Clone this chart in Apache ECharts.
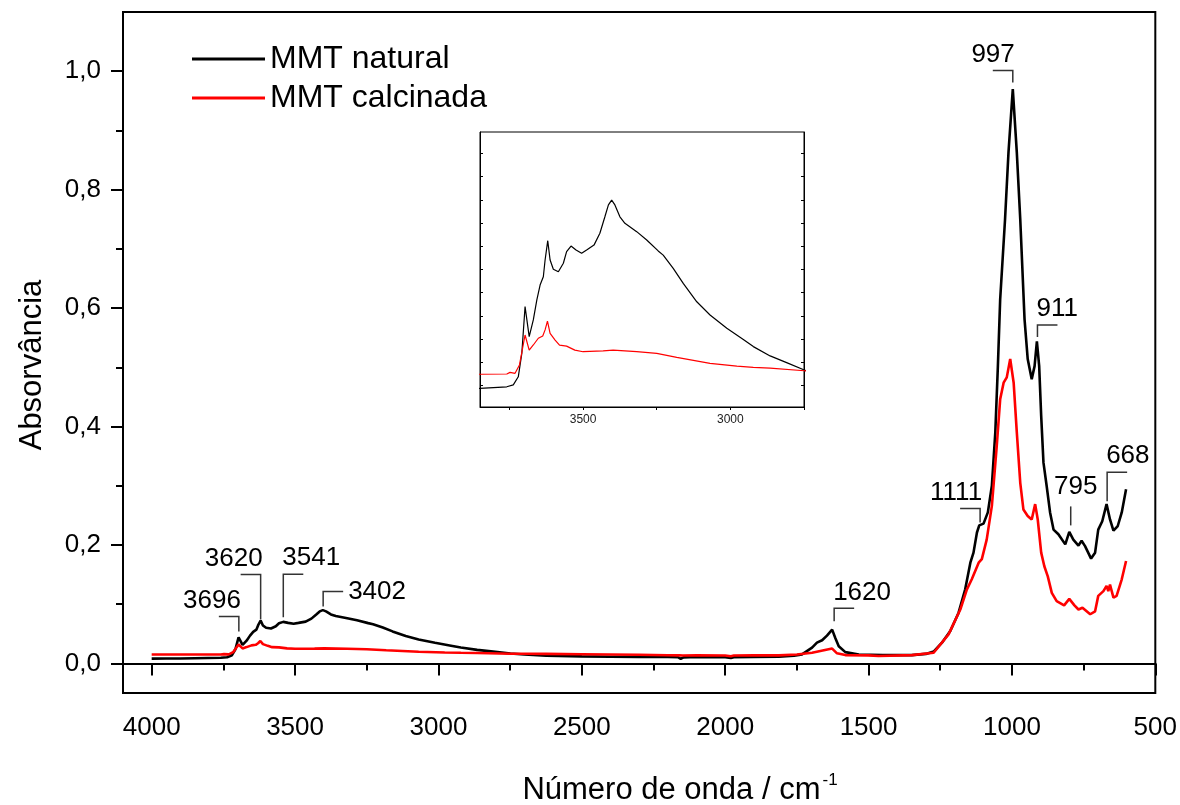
<!DOCTYPE html>
<html>
<head>
<meta charset="utf-8">
<script src="https://cdn.jsdelivr.net/npm/echarts@6/dist/echarts.min.js"></script>
<style>html,body{margin:0;padding:0;background:#fff}#c{width:1180px;height:805px}</style>
</head>
<body>
<div id="c"></div>
<script>
// ---------------- DATA ----------------
const seriesNames = ['MMT natural', 'MMT calcinada'];

const naturalWave = [4000,3950,3900,3850,3759,3737,3720,3708,3697,3683,3669,3657,3646,3635,3629,3620,3612,3601,3584,3567,3556,3541,3524,3505,3488,3463,3443,3426,3414,3403,3392,3375,3358,3318,3284,3245,3228,3194,3160,3114,3069,3012,2956,2922,2865,2809,2749,2700,2624,2500,2400,2300,2200,2165,2155,2145,2100,2000,1980,1970,1900,1813,1760,1732,1697,1680,1662,1645,1627,1616,1604,1581,1534,1450,1349,1300,1273,1244,1215,1186,1163,1145,1134,1122,1114,1099,1084,1070,1058,1049,1041,1024,1012,997,983,971,956,945,931,921,913,905,898,890,879,867,855,838,814,800,786,768,757,745,724,710,699,685,670,658,646,631,617,602];
const naturalAbs = [0.008,0.0082,0.0083,0.0088,0.0095,0.0103,0.0138,0.0239,0.0440,0.0311,0.0383,0.0469,0.0533,0.0569,0.0641,0.0724,0.0641,0.0601,0.0590,0.0627,0.0677,0.0701,0.0684,0.0670,0.0684,0.0705,0.0756,0.0827,0.0878,0.0899,0.0878,0.0827,0.0799,0.0763,0.0727,0.0680,0.0662,0.0605,0.0540,0.0461,0.0404,0.0347,0.0299,0.0268,0.0228,0.0199,0.0167,0.0150,0.0128,0.0118,0.0112,0.0110,0.0108,0.0105,0.0078,0.0102,0.0110,0.0105,0.0092,0.0104,0.0110,0.0112,0.0128,0.0152,0.0265,0.035,0.039,0.047,0.057,0.043,0.029,0.019,0.015,0.014,0.014,0.016,0.020,0.0349,0.0546,0.0856,0.125,0.170,0.187,0.221,0.233,0.236,0.255,0.300,0.390,0.502,0.615,0.750,0.863,0.970,0.863,0.750,0.581,0.514,0.480,0.502,0.544,0.502,0.418,0.339,0.300,0.255,0.226,0.218,0.201,0.222,0.209,0.199,0.207,0.198,0.177,0.187,0.226,0.240,0.269,0.243,0.224,0.232,0.255,0.294];

const calcWave = [4000,3850,3759,3748,3731,3716,3697,3683,3669,3652,3637,3629,3621,3612,3595,3580,3556,3528,3500,3432,3398,3318,3250,3182,3069,2978,2922,2865,2749,2700,2624,2500,2400,2300,2200,2160,2155,2148,2100,2000,1980,1970,1900,1813,1750,1697,1627,1610,1581,1500,1465,1349,1273,1221,1180,1157,1140,1116,1105,1088,1070,1053,1041,1029,1018,1006,994,983,971,960,945,931,919,910,898,887,875,861,844,818,800,782,768,754,727,710,699,681,670,664,658,646,635,617,602];
const calcAbs = [0.015,0.0149,0.0150,0.0157,0.0153,0.0189,0.0318,0.0253,0.0275,0.0304,0.0314,0.0340,0.0378,0.0325,0.0296,0.0274,0.0270,0.0253,0.0246,0.0250,0.0253,0.0246,0.0239,0.0222,0.0196,0.0184,0.0179,0.0175,0.0164,0.0162,0.0160,0.0155,0.0150,0.0145,0.0138,0.0136,0.0118,0.0134,0.0135,0.0133,0.0122,0.0132,0.0138,0.0135,0.0150,0.018,0.025,0.017,0.014,0.0135,0.0124,0.014,0.018,0.049,0.091,0.125,0.142,0.170,0.176,0.209,0.266,0.367,0.446,0.474,0.483,0.514,0.474,0.390,0.305,0.260,0.249,0.243,0.269,0.243,0.187,0.164,0.147,0.119,0.105,0.098,0.109,0.098,0.091,0.094,0.083,0.088,0.114,0.122,0.131,0.122,0.133,0.111,0.114,0.142,0.173];

// peak annotations
const peakLabels = ['3696','3620','3541','3402','1620','1111','997','911','795','668'];
const peakWave   = [3696, 3620, 3541, 3402, 1620, 1111, 997, 911, 795, 668];
const peakAbs    = [0.054,0.074,0.078,0.096,0.071,0.238,0.981,0.551,0.233,0.274];

// axis ticks / labels
const xMajorTicks = [500,1000,1500,2000,2500,3000,3500,4000];
const xMinorTicks = [750,1250,1750,2250,2750,3250,3750];
const yMajorTicks = [0,0.2,0.4,0.6,0.8,1.0];
const yMinorTicks = [0.1,0.3,0.5,0.7,0.9];
const insetXTicks = [3750,3500,3250,3000,2750];
const insetXLabels = [3500,3000];
const insetYTicks = [0.01,0.02,0.03,0.04,0.05,0.06,0.07,0.08,0.09,0.10,0.11];

// ---------------- LAYOUT / STYLE ----------------
const peakLayout = [
  {len:15, dir:-1}, {len:45, dir:-1}, {len:43, dir:1}, {len:15, dir:1, side:true},
  {len:13, dir:1}, {len:14, dir:-1}, {len:12, dir:-1}, {len:12, dir:1},
  {len:19, dir:0}, {len:29, dir:1}
];
const FONT = 'Liberation Sans';

const zip = (a, b) => a.map((v, i) => [v, b[i]]);
const natData = zip(naturalWave, naturalAbs);
const calData = zip(calcWave, calcAbs);
const peakData = peakWave.map((w, i) => [w, peakAbs[i], i]);

const chart = echarts.init(document.getElementById('c'), null, {renderer: 'canvas'});

const commaFmt = v => v.toFixed(1).replace('.', ',');
const plainFmt = v => String(Math.round(v));

const option = {
  animation: false,
  backgroundColor: '#fff',
  grid: [
    {left: 123, top: 12, width: 1034, height: 681, show: true, borderColor: '#000', borderWidth: 2, containLabel: false},
    {left: 480, top: 132, width: 324, height: 275, show: true, borderColor: '#000', borderWidth: 1, backgroundColor: '#fff', containLabel: false}
  ],
  legend: {
    data: seriesNames,
    orient: 'vertical',
    left: 187, top: 38,
    icon: 'rect',
    itemWidth: 73, itemHeight: 3,
    itemGap: 7,
    textStyle: {fontFamily: FONT, fontSize: 32, color: '#000'}
  },
  xAxis: [
    {gridIndex: 0, type: 'value', inverse: true, min: 500, max: 4100,
     axisLine: {show: true, lineStyle: {color: '#000', width: 2}},
     axisTick: {show: true, customValues: xMajorTicks, length: 12, lineStyle: {color: '#000', width: 2}},
     axisLabel: {show: true, customValues: xMajorTicks, formatter: plainFmt, fontFamily: FONT, fontSize: 26, color: '#000', margin: 22},
     splitLine: {show: false}},
    {gridIndex: 0, type: 'value', inverse: true, min: 500, max: 4100, position: 'bottom',
     axisLine: {show: false},
     axisTick: {show: true, customValues: xMinorTicks, length: 7, lineStyle: {color: '#000', width: 2}},
     axisLabel: {show: false}, splitLine: {show: false}},
    {gridIndex: 1, type: 'value', inverse: true, min: 2750, max: 3850, position: 'bottom',
     axisLine: {show: true, lineStyle: {color: '#000', width: 1}},
     axisTick: {show: true, customValues: insetXTicks, length: 3, lineStyle: {color: '#000', width: 1}},
     axisLabel: {show: true, customValues: insetXLabels, formatter: plainFmt, fontFamily: FONT, fontSize: 12, color: '#222', margin: 7},
     splitLine: {show: false}}
  ],
  yAxis: [
    {gridIndex: 0, type: 'value', min: -0.05, max: 1.1,
     axisLine: {show: true, lineStyle: {color: '#000', width: 2}},
     axisTick: {show: true, customValues: yMajorTicks, length: 12, lineStyle: {color: '#000', width: 2}},
     axisLabel: {show: true, customValues: yMajorTicks, formatter: commaFmt, fontFamily: FONT, fontSize: 26, color: '#000', margin: 22},
     splitLine: {show: false}},
    {gridIndex: 0, type: 'value', min: -0.05, max: 1.1, position: 'left',
     axisLine: {show: false},
     axisTick: {show: true, customValues: yMinorTicks, length: 7, lineStyle: {color: '#000', width: 2}},
     axisLabel: {show: false}, splitLine: {show: false}},
    {gridIndex: 1, type: 'value', min: 0.0008, max: 0.1192, position: 'left',
     axisLine: {show: true, lineStyle: {color: '#000', width: 1}},
     axisTick: {show: true, inside: true, customValues: insetYTicks, length: 3, lineStyle: {color: '#000', width: 1}},
     axisLabel: {show: false}, splitLine: {show: false}},
    {gridIndex: 1, type: 'value', min: 0.0008, max: 0.1192, position: 'right',
     axisLine: {show: true, lineStyle: {color: '#000', width: 1}},
     axisTick: {show: true, inside: true, customValues: insetYTicks, length: 3, lineStyle: {color: '#000', width: 1}},
     axisLabel: {show: false}, splitLine: {show: false}}
  ],
  series: [
    {name: seriesNames[0], type: 'line', xAxisIndex: 0, yAxisIndex: 0, data: natData,
     showSymbol: false, symbol: 'none', lineStyle: {color: '#000', width: 2.6}, itemStyle: {color: '#000'}, z: 3},
    {name: seriesNames[1], type: 'line', xAxisIndex: 0, yAxisIndex: 0, data: calData,
     showSymbol: false, symbol: 'none', lineStyle: {color: '#ff0000', width: 2.6}, itemStyle: {color: '#ff0000'}, z: 4},
    {name: 'inset-nat', type: 'line', xAxisIndex: 2, yAxisIndex: 2, data: natData, clip: true,
     showSymbol: false, symbol: 'none', lineStyle: {color: '#000', width: 1.2}, z: 5},
    {name: 'inset-cal', type: 'line', xAxisIndex: 2, yAxisIndex: 2, data: calData, clip: true,
     showSymbol: false, symbol: 'none', lineStyle: {color: '#ff0000', width: 1.2}, z: 6},
    {name: 'peaks', type: 'custom', xAxisIndex: 0, yAxisIndex: 0, data: peakData, clip: false, z: 10,
     encode: {x: 0, y: 1},
     renderItem: function (params, api) {
       const i = api.value(2);
       const p = api.coord([api.value(0), api.value(1)]);
       const L = peakLayout[i];
       const topY = p[1] - L.len;
       const hx = p[0] + L.dir * 20;
       const pts = L.dir === 0 ? [[p[0], p[1]], [p[0], topY]] : [[p[0], p[1]], [p[0], topY], [hx, topY]];
       let tx, ty, align, va = 'middle';
       if (L.side) { tx = hx + 5; ty = topY; align = 'left'; }
       else if (L.dir < 0) { tx = p[0] + 2; ty = topY - 16; align = 'right'; }
       else if (L.dir > 0) { tx = p[0] - 1; ty = topY - 16; align = 'left'; }
       else { tx = p[0] + 5; ty = topY - 20; align = 'center'; }
       return {
         type: 'group',
         children: [
           {type: 'polyline', shape: {points: pts}, style: {stroke: '#333', lineWidth: 1.5, fill: null}},
           {type: 'text', x: tx, y: ty, style: {text: peakLabels[i], fontFamily: FONT, fontSize: 26, fill: '#000', align: align, verticalAlign: va}}
         ]
       };
     }}
  ],
  graphic: [
    {type: 'text', x: 32, y: 365, rotation: Math.PI / 2,
     style: {text: 'Absorvância', fontFamily: FONT, fontSize: 31, fill: '#000', align: 'center', verticalAlign: 'middle'}},
    {type: 'text', x: 680, y: 790,
     style: {text: '{a|Número de onda / cm}{s|-1}', align: 'center', verticalAlign: 'middle',
       rich: {a: {fontFamily: FONT, fontSize: 31, fill: '#000', lineHeight: 36},
              s: {fontFamily: FONT, fontSize: 17, fill: '#000', verticalAlign: 'top', lineHeight: 18, padding: [0, 0, 0, 2]}}}}
  ]
};
chart.setOption(option);
</script>
</body>
</html>
